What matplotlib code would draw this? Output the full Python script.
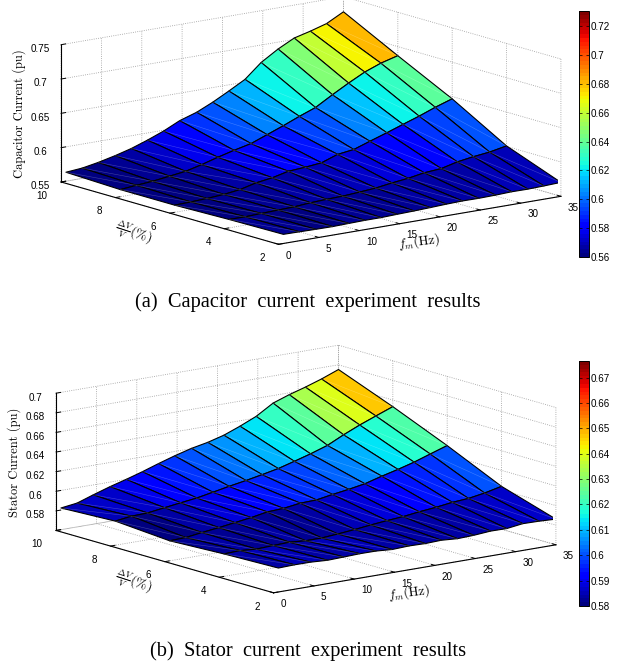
import numpy as np
import matplotlib
matplotlib.use('Agg')
import matplotlib.pyplot as plt
from matplotlib.cm import ScalarMappable
from matplotlib.colors import Normalize

plt.rcParams['font.family'] = 'Liberation Sans'
plt.rcParams['mathtext.fontset'] = 'cm'

W, H = 632, 666

fm = [0.6, 2.6, 4.6, 6.7, 8.7, 10.7, 12.7, 14.7, 16.8, 18.8, 20.8, 22.8, 24.8, 26.9, 28.9, 30.9, 32.9, 35.0]
dv = [2, 4, 6, 8, 10]

# capacitor current, one row per dv
cap_2 = [.5633, .5630, .5626, .5624, .5630, .5635, .5635, .5643, .5650, .5659, .5669, .5676, .5674, .5679, .5688, .5686, .5693, .5703]
cap_4 = [.5623, .5621, .5630, .5638, .5645, .5664, .5674, .5681, .5698, .5717, .5751, .5778, .5819, .5838, .5896, .5932, .5959, .6007]
cap_6 = [.5604, .5611, .5621, .5638, .5669, .5727, .5761, .5816, .5833, .5857, .5940, .5971, .6051, .6133, .6215, .6295, .6384, .6466]
cap_8 = [.5604, .5626, .5645, .5677, .5708, .5766, .5833, .5894, .5950, .6040, .6130, .6227, .6316, .6460, .6590, .6710, .6800, .6867]
cap_10 = [.5630, .5650, .5693, .5750, .5814, .5896, .5988, .6100, .6180, .6287, .6410, .6540, .6746, .6900, .7020, .7080, .7150, .7280]

# stator current, one row per dv
sta_2 = [.5844, .5849, .5848, .5838, .5843, .5849, .5848, .5836, .5843, .5839, .5845, .5833, .5839, .5853, .5851, .5873, .5870, .5862]
sta_4 = [.5829, .5835, .5822, .5829, .5835, .5822, .5822, .5835, .5851, .5870, .5886, .5899, .5920, .5937, .5959, .5971, .5998, .6037]
sta_6 = [.5804, .5809, .5832, .5853, .5876, .5899, .5929, .5937, .5961, .5966, .5994, .6018, .6047, .6095, .6136, .6182, .6237, .6294]
sta_8 = [.5846, .5868, .5873, .5897, .5919, .5940, .5971, .6003, .6033, .6065, .6099, .6145, .6193, .6250, .6330, .6402, .6466, .6532]
sta_10 = [.5821, .5843, .5899, .5954, .6000, .6050, .6105, .6156, .6203, .6236, .6281, .6345, .6417, .6523, .6581, .6630, .6685, .6752]

fm_ticks = [0, 5, 10, 15, 20, 25, 30, 35]
dv_ticks = [2, 4, 6, 8, 10]
cap_zticks = [0.55, 0.6, 0.65, 0.7, 0.75]
cap_zlabels = ['0.55', '0.6', '0.65', '0.7', '0.75']
sta_zticks = [0.56, 0.58, 0.6, 0.62, 0.64, 0.66, 0.68, 0.7]
sta_zlabels = ['', '0.58', '0.6', '0.62', '0.64', '0.66', '0.68', '0.7']
cap_cticks = [0.56, 0.58, 0.6, 0.62, 0.64, 0.66, 0.68, 0.7, 0.72]
cap_clabels = ['0.56', '0.58', '0.6', '0.62', '0.64', '0.66', '0.68', '0.7', '0.72']
sta_cticks = [0.58, 0.59, 0.6, 0.61, 0.62, 0.63, 0.64, 0.65, 0.66, 0.67]
sta_clabels = ['0.58', '0.59', '0.6', '0.61', '0.62', '0.63', '0.64', '0.65', '0.66', '0.67']

jet = plt.get_cmap('jet', 64)
fig = plt.figure(figsize=(W / 100, H / 100), dpi=100)


def surface(rows, zlim, zticks, zlabels, clim, cticks, clabels, cx, cy, S, cbar_y):
    # cx, cy is where the centre of the box should fall, in image pixels
    left = cx - 0.5135 * S
    bottom = H - cy - 0.5135 * S
    ax = fig.add_axes([left / W, bottom / H, S / W, S / H], projection='3d')
    ax.patch.set_alpha(0)
    ax.set_proj_type('ortho')
    ax.view_init(elev=12.75, azim=-127.6)
    ax.set_box_aspect((1, 1, 0.395))
    ax.computed_zorder = False
    X, Y = np.meshgrid(fm, dv)
    Z = np.array(rows)
    norm = Normalize(clim[0], clim[1])
    ax.plot_surface(X, Y, Z, facecolors=jet(norm(Z)), rstride=1, cstride=1,
                    edgecolor='k', linewidth=0.8, shade=False, antialiased=True, zorder=2)
    # faint white diagonals across the faces
    for i in range(len(dv) - 1):
        for j in range(len(fm) - 1):
            ax.plot([fm[j], fm[j + 1]], [dv[i + 1], dv[i]], [Z[i + 1, j], Z[i, j + 1]],
                    color='w', alpha=0.25, lw=0.4, zorder=3)
    ax.set_xlim(0, 35, view_margin=0)
    ax.set_ylim(2, 10, view_margin=0)
    ax.set_zlim(zlim[0], zlim[1], view_margin=0)
    ax.set_xticks(fm_ticks)
    ax.set_yticks(dv_ticks)
    ax.set_zticks(zticks)
    ax.set_zticklabels(zlabels)
    for axis in (ax.xaxis, ax.yaxis, ax.zaxis):
        axis.set_pane_color((1, 1, 1, 0))
        axis.pane.set_edgecolor((1, 1, 1, 0))
        axis.line.set_color('k')
        axis.line.set_linewidth(0.8)
        axis._axinfo['grid'].update(color='#999999', linestyle=':', linewidth=0.6)
        axis._axinfo['tick'].update(inward_factor=0.0, outward_factor=0.2)
        axis._axinfo['tick']['linewidth'] = {True: 0.7, False: 0.7}
    ax.tick_params(labelsize=7.1, pad=-2)
    ax.tick_params(axis='y', pad=1)
    ax.tick_params(axis='z', pad=0)
    for t in ax.get_xticklabels():
        t.set_ha('left')
    for t in ax.get_yticklabels():
        t.set_ha('right')

    cax = fig.add_axes([579 / W, (H - cbar_y[1]) / H, 10 / W, (cbar_y[1] - cbar_y[0]) / H])
    cb = fig.colorbar(ScalarMappable(norm=norm, cmap=jet), cax=cax)
    cb.set_ticks(cticks)
    cb.set_ticklabels(clabels)
    cax.tick_params(labelsize=7.1, length=2, width=0.5, direction='in', pad=1.5, left=True, right=True)
    cb.outline.set_linewidth(0.7)
    return ax


surface([cap_2, cap_4, cap_6, cap_8, cap_10], (0.55, 0.75), cap_zticks, cap_zlabels,
        (0.56, 0.7305), cap_cticks, cap_clabels, 311, 120.5, 508, (11, 257))
surface([sta_2, sta_4, sta_6, sta_8, sta_10], (0.56, 0.70), sta_zticks, sta_zlabels,
        (0.58, 0.6765), sta_cticks, sta_clabels, 306, 469, 508, (361, 606))


def label(px, py, s, **kw):
    fig.text(px / W, 1 - py / H, s, ha='center', va='center', **kw)


label(19, 114, 'Capacitor Current (pu)', rotation=90, family='cmr10', fontsize=9)
label(134, 233, r'$\frac{\Delta V}{V}(\%)$', rotation=-18, fontsize=10)
label(419, 242, r'$f_m(\mathrm{Hz})$', rotation=7, fontsize=9.5)
label(14, 462, 'Stator Current (pu)', rotation=90, family='cmr10', fontsize=9)
label(134, 582, r'$\frac{\Delta V}{V}(\%)$', rotation=-18, fontsize=10)
label(409, 593, r'$f_m(\mathrm{Hz})$', rotation=7, fontsize=9.5)
label(308, 302, '(a)  Capacitor  current  experiment  results', family='Liberation Serif', fontsize=14.7)
label(308, 651, '(b)  Stator  current  experiment  results', family='Liberation Serif', fontsize=14.7)

fig.savefig('out.png', dpi=100)
